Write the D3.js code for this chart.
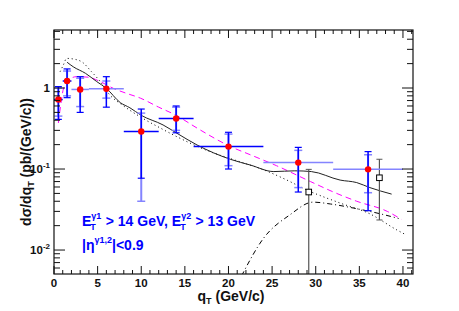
<!DOCTYPE html>
<html><head><meta charset="utf-8">
<script src="https://cdn.jsdelivr.net/npm/d3@7"></script>
<style>body{margin:0;background:#fff}svg{display:block}text{font-family:"Liberation Sans",Arial,sans-serif;font-weight:bold}</style>
</head><body>
<svg id="c" width="459" height="311"></svg>
<script>
// ---- data ----
const ptX    = [0.5, 1.5, 3, 6, 10, 14, 20, 28, 36];
const ptY    = [0.72, 1.22, 0.96, 0.98, 0.29, 0.42, 0.189, 0.12, 0.099];
const binLo  = [0, 1, 2, 4, 8, 12, 16, 24, 32];
const binHi  = [1, 2, 4, 8, 12, 16, 24, 32, 40];
const statLo = [0.41, 0.76, 0.50, 0.58, 0.077, 0.28, 0.10, 0.052, 0.0306];
const statHi = [1.04, 1.72, 1.38, 1.38, 0.55, 0.60, 0.284, 0.185, 0.164];
const sysLo  = [0.45, 0.80, 0.59, 0.75, 0.040, 0.30, 0.11, 0.059, 0.051];
const sysHi  = [1.00, 1.62, 1.32, 1.22, 0.49, 0.58, 0.27, 0.17, 0.150];

const sqX  = [29.2, 37.3];
const sqY  = [0.052, 0.078];
const sqLo = [0.001, 0.0235];
const sqHi = [0.099, 0.132];

const solidX = [1.5, 2.2, 3.6, 4.9, 6.0, 7.6, 8.7, 10, 12.5, 14.1, 16.4, 20.2, 22.5, 25.2, 27.6, 29.5, 32.8, 34.7, 36.2, 38.7];
const solidY = [2.08, 1.83, 1.52, 1.2, 0.99, 0.66, 0.57, 0.46, 0.35, 0.276, 0.198, 0.132, 0.112, 0.093, 0.095, 0.093, 0.073, 0.068, 0.059, 0.049];

const dotX = [0.7, 1.07, 1.45, 2.4, 3.2, 4.3, 5.3, 6.4, 7.8, 9.9, 12.2, 14.1, 17.5, 21.3, 24, 26.7, 29, 32.8, 36.2, 39.3, 40.4];
const dotY = [1.59, 1.92, 2.32, 2.26, 2.1, 1.59, 1.2, 0.82, 0.62, 0.44, 0.32, 0.25, 0.17, 0.123, 0.098, 0.073, 0.055, 0.038, 0.028, 0.0177, 0.0153];

const magX = [0.5, 0.75, 1.1, 1.6, 2.6, 3.9, 5.3, 6.8, 8.3, 9.9, 12, 14, 16.4, 20.2, 22.5, 25.5, 29.4, 32.4, 34.7, 38.2, 39.8];
const magY = [0.37, 0.6, 1.0, 1.25, 1.38, 1.36, 1.2, 0.99, 0.86, 0.75, 0.58, 0.46, 0.32, 0.19, 0.15, 0.11, 0.07, 0.05, 0.04, 0.03, 0.024];

const ddX = [21.5, 24, 27, 29.7, 31.7, 34.3, 37.4, 39.5];
const ddY = [0.0048, 0.0139, 0.027, 0.039, 0.037, 0.033, 0.028, 0.0245];

const xTicks = [0, 5, 10, 15, 20, 25, 30, 35, 40];
const yTickVals = [1, 0.1, 0.01];
const yTickExp  = ["", "-1", "-2"];

// ---- layout ----
const L = 54, R = 413, T = 30, B = 274;
const x = d3.scaleLinear().domain([0, 41.15]).range([L, R]);
const y = d3.scaleLog().domain([0.00506, 5.2]).range([B, T]);
const svg = d3.select("#c");
svg.append("defs").append("clipPath").attr("id","clip")
  .append("rect").attr("x",L).attr("y",T).attr("width",R-L).attr("height",B-T);

const g = svg.append("g").attr("clip-path","url(#clip)");
const line = (xs, ys) => d3.line().curve(d3.curveMonotoneX).x((d,i)=>x(xs[i])).y((d,i)=>y(ys[i]))(xs);

// curves
g.append("path").attr("d", line(magX, magY)).attr("fill","none").attr("stroke","#ff00ff").attr("stroke-width",1).attr("stroke-dasharray","6,4");
g.append("path").attr("d", line(dotX, dotY)).attr("fill","none").attr("stroke","#000").attr("stroke-width",1).attr("stroke-dasharray","1,3");
g.append("path").attr("d", line(ddX, ddY)).attr("fill","none").attr("stroke","#000").attr("stroke-width",1).attr("stroke-dasharray","5,3,1,3");
g.append("path").attr("d", line(solidX, solidY)).attr("fill","none").attr("stroke","#222").attr("stroke-width",1);

// squares with grey errors
sqX.forEach((v,i)=>{
  const cx = x(v);
  g.append("line").attr("x1",cx).attr("x2",cx).attr("y1",y(sqLo[i])).attr("y2",y(sqHi[i])).attr("stroke","#555").attr("stroke-width",1.2);
  g.append("line").attr("x1",cx-3).attr("x2",cx+3).attr("y1",y(sqHi[i])).attr("y2",y(sqHi[i])).attr("stroke","#555");
  g.append("line").attr("x1",cx-3).attr("x2",cx+3).attr("y1",y(sqLo[i])).attr("y2",y(sqLo[i])).attr("stroke","#555");
  g.append("rect").attr("x",cx-2.8).attr("y",y(sqY[i])-2.8).attr("width",5.6).attr("height",5.6).attr("fill","#fff").attr("stroke","#000").attr("stroke-width",1);
});

// data points
const dark = "#0000ff", light = "#8484ff";
const lightBin = new Set([2,3,7,8]);
ptX.forEach((v,i)=>{
  const cx = x(v), cy = y(ptY[i]);
  g.append("line").attr("x1",x(binLo[i])).attr("x2",x(binHi[i])).attr("y1",cy).attr("y2",cy)
    .attr("stroke", lightBin.has(i)?light:dark).attr("stroke-width",1.5);
  // sys (light)
  g.append("line").attr("x1",cx).attr("x2",cx).attr("y1",y(sysLo[i])).attr("y2",y(sysHi[i])).attr("stroke",light).attr("stroke-width",2);
  [sysLo[i], sysHi[i]].forEach(e=>g.append("line").attr("x1",cx-4).attr("x2",cx+4).attr("y1",y(e)).attr("y2",y(e)).attr("stroke",light).attr("stroke-width",1.5));
  // stat (dark)
  g.append("line").attr("x1",cx).attr("x2",cx).attr("y1",y(statLo[i])).attr("y2",y(statHi[i])).attr("stroke",dark).attr("stroke-width",1.5);
  [statLo[i], statHi[i]].forEach(e=>g.append("line").attr("x1",cx-3.5).attr("x2",cx+3.5).attr("y1",y(e)).attr("y2",y(e)).attr("stroke",dark).attr("stroke-width",1.2));
  g.append("circle").attr("cx",cx).attr("cy",cy).attr("r",3.2).attr("fill","#ff0000");
});

// frame
svg.append("rect").attr("x",L).attr("y",T).attr("width",R-L).attr("height",B-T).attr("fill","none").attr("stroke","#111").attr("stroke-width",1.2);

// x ticks (bottom and top, inside)
const ax = svg.append("g").attr("stroke","#111").attr("stroke-width",1);
d3.range(0, 42, 1).forEach(t=>{
  if (x(t) > R) return;
  const len = (t % 5 === 0) ? 8 : 4;
  ax.append("line").attr("x1",x(t)).attr("x2",x(t)).attr("y1",B).attr("y2",B-len);
  ax.append("line").attr("x1",x(t)).attr("x2",x(t)).attr("y1",T).attr("y2",T+len);
});
// y ticks (left and right, inside)
[-3,-2,-1,0].forEach(dec=>{
  for (let m=1; m<10; m++){
    const v = m*Math.pow(10,dec);
    if (v < y.domain()[0] || v > y.domain()[1]) continue;
    const len = m===1 ? 11 : 6;
    ax.append("line").attr("x1",L).attr("x2",L+len).attr("y1",y(v)).attr("y2",y(v));
    ax.append("line").attr("x1",R).attr("x2",R-len).attr("y1",y(v)).attr("y2",y(v));
  }
});

// x tick labels
xTicks.forEach(t=>{
  svg.append("text").attr("x",x(t)).attr("y",287).attr("text-anchor","middle").attr("font-size",11.5).attr("fill","#111").text(t);
});
// y tick labels
yTickVals.forEach((v,i)=>{
  const t = svg.append("text").attr("x",50).attr("y",y(v)+4).attr("text-anchor","end").attr("font-size",11.5).attr("fill","#111");
  if (yTickExp[i]===""){ t.text("1"); }
  else {
    t.append("tspan").text("10");
    t.append("tspan").attr("font-size",8).attr("dy",-5).text(yTickExp[i]);
  }
});

// axis titles
const xt = svg.append("text").attr("x",231).attr("y",301).attr("text-anchor","middle").attr("font-size",14).attr("fill","#111");
xt.append("tspan").text("q");
xt.append("tspan").attr("font-size",9).attr("dy",3).text("T");
xt.append("tspan").attr("dy",-3).text(" (GeV/c)");

const yt = svg.append("text").attr("transform","translate(31,162) rotate(-90)").attr("text-anchor","middle").attr("font-size",14).attr("fill","#111");
yt.append("tspan").text("d\u03c3/dq");
yt.append("tspan").attr("font-size",9).attr("dy",3).text("T");
yt.append("tspan").attr("dy",-3).text("  (pb/(GeV/c))");

// annotation
const blue = "#0000ff";
const a1 = svg.append("text").attr("x",82).attr("y",226).attr("font-size",14).attr("fill",blue);
a1.append("tspan").text("E");
a1.append("tspan").attr("font-size",9).attr("dy",-7).text("\u03b31");
a1.append("tspan").attr("font-size",9).attr("dx",-11).attr("dy",11).text("T");
a1.append("tspan").attr("dy",-4).attr("dx",6).text(" > 14 GeV, E");
a1.append("tspan").attr("font-size",9).attr("dy",-7).text("\u03b32");
a1.append("tspan").attr("font-size",9).attr("dx",-11).attr("dy",11).text("T");
a1.append("tspan").attr("dy",-4).attr("dx",6).text(" > 13 GeV");

const a2 = svg.append("text").attr("x",82).attr("y",250).attr("font-size",14).attr("fill",blue);
a2.append("tspan").text("|\u03b7");
a2.append("tspan").attr("font-size",9).attr("dy",-7).text("\u03b31,2");
a2.append("tspan").attr("dy",7).text("|<0.9");
</script>
</body></html>
